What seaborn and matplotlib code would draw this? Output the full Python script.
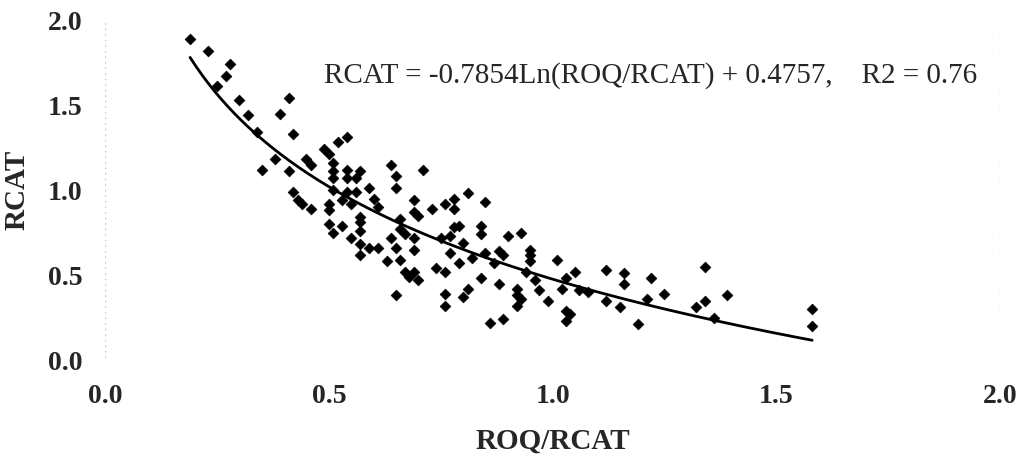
import numpy as np
import pandas as pd
import matplotlib
matplotlib.use("Agg")
import matplotlib.pyplot as plt
import seaborn as sns

# === Data: ROQ/RCAT (x) vs RCAT (y) ===
roq_rcat = [
    0.19, 0.23, 0.28, 0.27, 0.25, 0.30, 0.41, 0.32, 0.39, 0.34,
    0.42, 0.35, 0.38, 0.41, 0.42, 0.43, 0.44, 0.46, 0.45, 0.46,
    0.52, 0.54, 0.49, 0.50, 0.51, 0.51, 0.51, 0.54, 0.57, 0.54,
    0.56, 0.59, 0.51, 0.54, 0.56, 0.50, 0.50, 0.53, 0.55, 0.60,
    0.61, 0.57, 0.50, 0.51, 0.53, 0.57, 0.57, 0.55, 0.57, 0.59,
    0.61, 0.57,
    0.64, 0.65, 0.65, 0.71, 0.69, 0.69, 0.70, 0.66, 0.64, 0.66,
    0.67, 0.69, 0.69, 0.63, 0.66, 0.65, 0.67, 0.69, 0.68, 0.70,
    0.65,
    0.73, 0.76, 0.78, 0.78, 0.81, 0.75, 0.77, 0.78, 0.79, 0.80,
    0.77, 0.79, 0.74, 0.76, 0.76, 0.76, 0.80, 0.81, 0.82,
    0.84, 0.85, 0.84, 0.85, 0.88, 0.89, 0.87, 0.84, 0.88, 0.86,
    0.89, 0.90, 0.93, 0.95, 0.95, 0.95, 0.94, 0.96, 0.92, 0.92,
    0.93, 0.92, 0.97, 0.99, 1.01, 1.05, 1.03, 1.02, 1.06, 1.08,
    1.03, 1.04, 1.03, 1.12, 1.12, 1.15, 1.16, 1.16, 1.19, 1.21,
    1.22, 1.25, 1.32, 1.34, 1.34, 1.36, 1.39, 1.58, 1.58,
]
rcat = [
    1.89, 1.82, 1.74, 1.67, 1.61, 1.53, 1.54, 1.44, 1.45, 1.34,
    1.33, 1.12, 1.18, 1.11, 0.99, 0.94, 0.92, 0.89, 1.18, 1.15,
    1.28, 1.31, 1.24, 1.21, 1.16, 1.11, 1.07, 1.12, 1.11, 1.07,
    1.07, 1.01, 1.00, 0.99, 0.99, 0.92, 0.88, 0.94, 0.92, 0.95,
    0.90, 0.84, 0.80, 0.75, 0.79, 0.81, 0.76, 0.72, 0.68, 0.66,
    0.66, 0.62,
    1.15, 1.08, 1.01, 1.12, 0.94, 0.87, 0.85, 0.83, 0.72, 0.77,
    0.74, 0.72, 0.65, 0.58, 0.59, 0.66, 0.52, 0.52, 0.49, 0.47,
    0.38,
    0.89, 0.92, 0.95, 0.89, 0.98, 0.72, 0.73, 0.78, 0.79, 0.69,
    0.63, 0.57, 0.54, 0.52, 0.39, 0.32, 0.37, 0.42, 0.60,
    0.79, 0.93, 0.74, 0.63, 0.64, 0.62, 0.57, 0.48, 0.45, 0.22,
    0.24, 0.73, 0.75, 0.65, 0.62, 0.58, 0.52, 0.47, 0.42, 0.38,
    0.36, 0.32, 0.41, 0.35, 0.59, 0.52, 0.48, 0.42, 0.41, 0.40,
    0.29, 0.27, 0.23, 0.53, 0.35, 0.31, 0.51, 0.45, 0.21, 0.36,
    0.48, 0.39, 0.31, 0.35, 0.55, 0.25, 0.38, 0.30, 0.20,
]

# trend line printed on the chart: RCAT = slope*Ln(ROQ/RCAT) + intercept
slope = -0.7854
intercept = 0.4757
fit_start, fit_end = 0.19, 1.58
equation = "RCAT = -0.7854Ln(ROQ/RCAT) + 0.4757,    R2 = 0.76"

x_ticks = [0.0, 0.5, 1.0, 1.5, 2.0]
y_ticks = [0.0, 0.5, 1.0, 1.5, 2.0]

df = pd.DataFrame({"ROQ/RCAT": roq_rcat, "RCAT": rcat})
fit_x = np.linspace(fit_start, fit_end, 200)
df_fit = pd.DataFrame({"ROQ/RCAT": fit_x, "RCAT": slope * np.log(fit_x) + intercept})

sns.set_theme(style="white")
plt.rcParams["font.family"] = ["Liberation Serif", "DejaVu Serif"]

fig = plt.figure(figsize=(10.3, 4.61), dpi=100)
ax = fig.add_axes([0.102, 0.219, 0.869, 0.7375])

sns.lineplot(data=df_fit, x="ROQ/RCAT", y="RCAT", color="black", linewidth=2.0, ax=ax)
sns.scatterplot(data=df, x="ROQ/RCAT", y="RCAT", marker="D", color="black",
                s=30, edgecolor="black", linewidth=0.5, ax=ax, zorder=3)

# faint dotted frame lines at the left and right edges
ax.plot([0, 0], [-0.02, 2.0], color="#bdbdbd", linestyle=(0, (1, 3)), linewidth=1.0)
ax.plot([2, 2], [0.06, 1.97], color="#cfcfcf", linestyle=(0, (1, 3)), linewidth=1.0)

ax.set_xlim(0, 2)
ax.set_ylim(0, 2)
ax.set_xticks(x_ticks)
ax.set_yticks(y_ticks)
ax.set_xticklabels([f"{t:.1f}" for t in x_ticks], fontsize=20, fontweight="bold")
ax.set_yticklabels([f"{t:.1f}" for t in y_ticks], fontsize=20, fontweight="bold")
ax.tick_params(axis="x", length=0, pad=17)
ax.tick_params(axis="y", length=0, pad=16)
for s in ax.spines.values():
    s.set_visible(False)

ax.set_xlabel("ROQ/RCAT", fontsize=21, fontweight="bold")
ax.set_ylabel("RCAT", fontsize=21, fontweight="bold")
ax.xaxis.label.set_va("center")
ax.yaxis.label.set_va("center")
ax.xaxis.set_label_coords(0.5, -0.24)
ax.yaxis.set_label_coords(-0.098, 0.5)

ax.text(0.49, 1.676, equation, fontsize=21, ha="left", va="center")

fig.savefig("out.png", dpi=100, facecolor="white")
plt.close(fig)
